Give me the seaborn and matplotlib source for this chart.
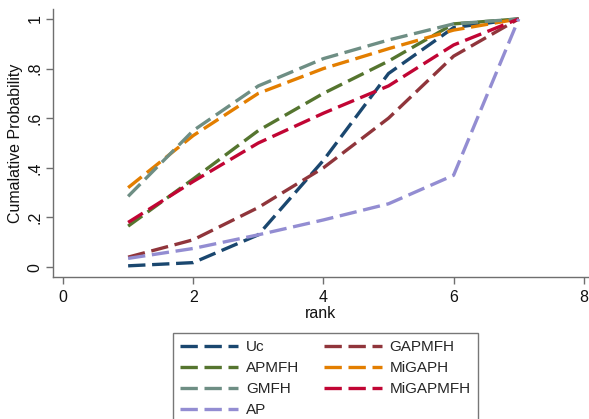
import numpy as np
import pandas as pd
import matplotlib
matplotlib.use("Agg")
import matplotlib.pyplot as plt
from matplotlib.lines import Line2D
import seaborn as sns

# Cumulative ranking probabilities per treatment, ranks 1..7
ranks = [1, 2, 3, 4, 5, 6, 7]
uc = [0.005, 0.018, 0.13, 0.43, 0.78, 0.965, 1.0]
gapmfh = [0.04, 0.11, 0.24, 0.40, 0.60, 0.85, 1.0]
apmfh = [0.165, 0.355, 0.55, 0.70, 0.83, 0.98, 1.0]
migaph = [0.32, 0.53, 0.70, 0.80, 0.88, 0.955, 1.0]
gmfh = [0.285, 0.55, 0.73, 0.84, 0.915, 0.98, 1.0]
migapmfh = [0.18, 0.345, 0.50, 0.62, 0.73, 0.895, 1.0]
ap = [0.035, 0.075, 0.13, 0.19, 0.255, 0.37, 1.0]

names = ["Uc", "GAPMFH", "APMFH", "MiGAPH", "GMFH", "MiGAPMFH", "AP"]
series = [uc, gapmfh, apmfh, migaph, gmfh, migapmfh, ap]
colors = ["#1a476f", "#90353b", "#55752f", "#e37e00", "#6e8e84", "#c10534", "#938dd2"]

xticks = [0, 2, 4, 6, 8]
yticks = [0, 0.2, 0.4, 0.6, 0.8, 1.0]
yticklabels = ["0", ".2", ".4", ".6", ".8", "1"]

df = pd.DataFrame({
    "rank": np.tile(ranks, len(names)),
    "prob": np.concatenate(series),
    "method": np.repeat(names, len(ranks)),
})

sns.set_style("white")
plt.rcParams["font.family"] = ["Liberation Sans", "DejaVu Sans"]

W, H = 589, 419
fig = plt.figure(figsize=(W / 100, H / 100), dpi=100)
ax = fig.add_axes([53 / W, 1 - 277 / H, (W - 53) / W, (277 - 9) / H])

palette = dict(zip(names, colors))
dash = (5.2, 2.0)
sns.lineplot(data=df, x="rank", y="prob", hue="method", hue_order=names,
             palette=palette, style="method", style_order=names,
             dashes={n: dash for n in names}, linewidth=2.4,
             legend=False, ax=ax)

ax.set_xlim(-0.154, 8.08)
ax.set_ylim(-0.04, 1.04)
ax.set_xticks(xticks)
ax.set_xticklabels([str(t) for t in xticks])
ax.set_yticks(yticks)
ax.set_yticklabels(yticklabels, rotation=90, va="center")

sns.despine(ax=ax)
for side in ["left", "bottom"]:
    ax.spines[side].set_color("#6f6f6f")
    ax.spines[side].set_linewidth(1.0)
ax.tick_params(axis="both", which="major", direction="out", length=5,
               width=1.0, color="#6f6f6f", labelsize=11.5, labelcolor="#111111",
               left=True, bottom=True, pad=4)
ax.tick_params(axis="y", pad=2.5)

ax.set_xlabel("rank", fontsize=11.5, color="#111111", labelpad=1)
ax.set_ylabel("Cumalative Probability", fontsize=11.5, color="#111111", labelpad=3)

# Legend filled column-first: left column Uc, APMFH, GMFH, AP
order = ["Uc", "APMFH", "GMFH", "AP", "GAPMFH", "MiGAPH", "MiGAPMFH"]
handles = [Line2D([0], [0], color=palette[n], lw=2.4, dashes=dash) for n in order]
fig.legend(handles, order, loc="upper left",
           bbox_to_anchor=(165 / W, 1 - 325 / H), ncol=2, frameon=True,
           fancybox=False, edgecolor="#555555", fontsize=11,
           handlelength=3.8, handletextpad=0.5, columnspacing=1.6,
           labelspacing=0.45, borderpad=0.5)

fig.savefig("out.png", dpi=100, facecolor="white")
